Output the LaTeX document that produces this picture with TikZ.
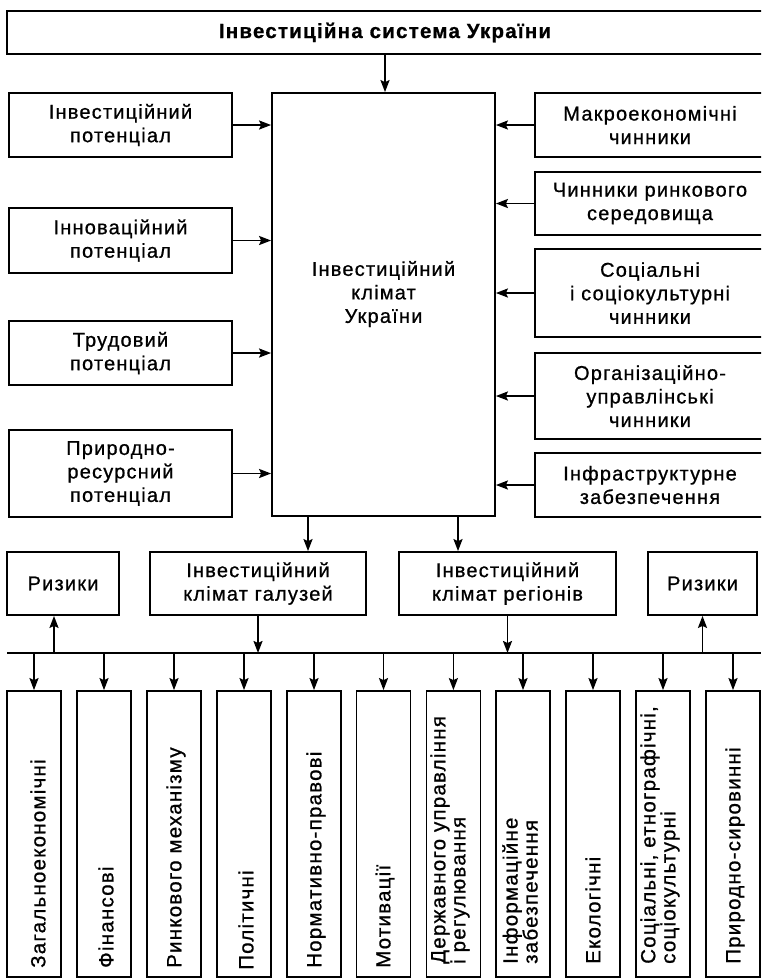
\documentclass[tikz,border=0pt]{standalone}
\usepackage{fontspec}
\setmainfont{Liberation Sans}[LetterSpace=6,FakeBold=0.8]
\usetikzlibrary{arrows.meta}
\begin{document}
\begin{tikzpicture}[x=1pt,y=-1pt,
  box/.style={draw, line width=1.8pt, inner sep=0pt, align=center,
    font=\fontsize{20}{23.5}\selectfont},
  txt/.style={inner sep=0pt, align=center, font=\fontsize{20}{23.5}\selectfont},
  lbox/.style={box, minimum width=223pt},
  rbox/.style={box, minimum width=230pt},
  vbox/.style={draw, line width=1.8pt, minimum width=54pt, minimum height=286pt, inner sep=0pt},
  vtxt/.style={rotate=90, anchor=west, inner sep=0pt, align=left,
    font=\fontsize{20.5}{20}\selectfont},
  arr/.style={line width=1.8pt, -{Stealth[length=12pt,width=9pt,inset=2pt]}},
  bus/.style={line width=1.8pt}
]
\useasboundingbox (0,0) rectangle (761,978);
\clip (0,0) rectangle (761,978);

% top
\node[box, minimum width=756pt, minimum height=43pt,
  font=\fontsize{20.5}{23}\selectfont\bfseries] (sys) at (385,32.5) {Інвестиційна система України};

% centre
\node[box, minimum width=223pt, minimum height=423pt] (clim) at (383.5,304.5) {};
\node[txt] (climt) at (383.5,294) {Інвестиційний\\клімат\\України};

% left column
\node[lbox, minimum height=64pt] (l1) at (120.5,125) {Інвестиційний\\потенціал};
\node[lbox, minimum height=65pt] (l2) at (120.5,240.5) {Інноваційний\\потенціал};
\node[lbox, minimum height=64pt] (l3) at (120.5,353) {Трудовий\\потенціал};
\node[lbox, minimum height=87pt] (l4) at (120.5,473.5) {Природно-\\ресурсний\\потенціал};

% right column
\node[rbox, minimum height=64pt] (r1) at (650,125) {Макроекономічні\\чинники};
\node[rbox, minimum height=63pt] (r2) at (650,203.5) {Чинники ринкового\\середовища};
\node[rbox, minimum height=88pt] (r3) at (650,293) {Соціальні\\і соціокультурні\\чинники};
\node[rbox, minimum height=86pt] (r4) at (650,396) {Організаційно-\\управлінські\\чинники};
\node[rbox, minimum height=64pt] (r5) at (650,485) {Інфраструктурне\\забезпечення};

% middle row
\node[box, minimum width=112pt, minimum height=63pt] (ris1) at (63,583.5) {Ризики};
\node[box, minimum width=216pt, minimum height=63pt] (gal) at (258,583.5) {Інвестиційний\\клімат галузей};
\node[box, minimum width=217pt, minimum height=63pt] (reg) at (507.5,583.5) {Інвестиційний\\клімат регіонів};
\node[box, minimum width=109pt, minimum height=63pt] (ris2) at (702.5,583.5) {Ризики};

% connectors upper part
\draw[arr] (sys.south) -- (sys.south |- clim.north);
\foreach \n in {l1,l2,l3,l4} \draw[arr] (\n.east) -- (\n.east -| clim.west);
\foreach \n in {r1,r2,r3,r4,r5} \draw[arr] (\n.west) -- (\n.west -| clim.east);
\draw[arr] ([xshift=-75.5pt]clim.south) -- ([xshift=-75.5pt]clim.south |- gal.north);
\draw[arr] ([xshift=74.5pt]clim.south) -- ([xshift=74.5pt]clim.south |- reg.north);

% bus
\coordinate (busL) at (7,653);
\coordinate (busR) at (761,653);
\draw[bus] (busL) -- (busR);
\draw[arr] (gal.south) -- (gal.south |- busL);
\draw[arr] (reg.south) -- (reg.south |- busL);
\draw[arr] ([xshift=-9pt]ris1.south |- busL) -- ([xshift=-9pt]ris1.south);
\draw[arr] (ris2.south |- busL) -- (ris2.south);

% bottom boxes
\foreach \i/\cx in {1/34,2/104,3/174,4/244,5/314,6/383.5,7/453.4,8/523,9/593,10/663,11/733} {
  \node[vbox] (v\i) at (\cx,834) {};
  \draw[arr] (v\i.north |- busL) -- (v\i.north);
}
\node[vtxt] (t1) at (38,968) {Загальноекономічні};
\node[vtxt] (t2) at (106,968) {Фінансові};
\node[vtxt] (t3) at (176,968) {Ринкового механізму};
\node[vtxt] (t4) at (246,970) {Політичні};
\node[vtxt] (t5) at (316,968) {Нормативно-правові};
\node[vtxt] (t6) at (385,968) {Мотивації};
\node[vtxt] (t7) at (450,964) {Державного управління\\і регулювання};
\node[vtxt] (t8) at (520,964) {Інформаційне\\забезпечення};
\node[vtxt] (t9) at (593,964) {Екологічні};
\node[vtxt] (t10) at (660,964) {Соціальні, етнографічні,\\соціокультурні};
\node[vtxt] (t11) at (735,964) {Природно-сировинні};
\end{tikzpicture}
\end{document}
